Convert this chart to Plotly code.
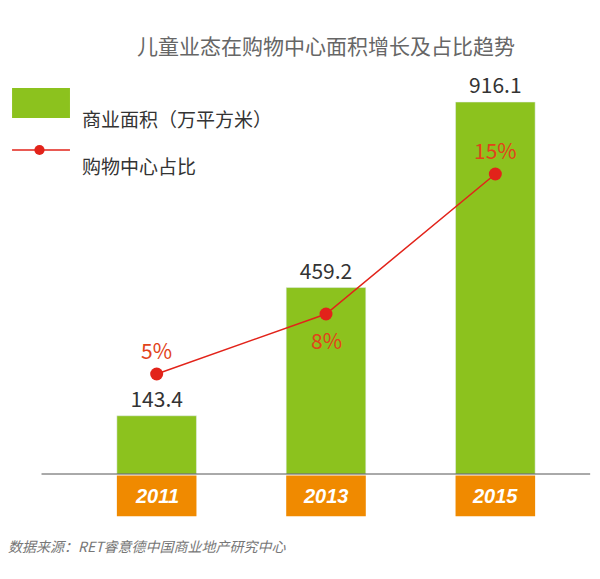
import plotly.graph_objects as go

years = ["2011", "2013", "2015"]
area = [143.4, 459.2, 916.1]
share = [5, 8, 15]
share_labels = ["5%", "8%", "15%"]

GREEN = "#8cc21e"
RED = "#e2231a"
ORANGE = "#f08a00"
FONT = "Noto Sans CJK SC"
H = 463  # plot area height in px

fig = go.Figure()
fig.add_trace(go.Bar(x=years, y=area, marker_color=GREEN, width=0.47,
                     text=[f"{v:.1f}" for v in area], textposition="outside",
                     textfont=dict(size=21, color="#333"), cliponaxis=False))
fig.add_trace(go.Scatter(x=years, y=share, yaxis="y2", mode="lines+markers",
                         line=dict(color=RED, width=1.5),
                         marker=dict(size=13, color=RED)))

# percentage labels
offsets = [24, -26, 24]
for i, (s, lab, off) in enumerate(zip(share, share_labels, offsets)):
    fig.add_annotation(x=i, xref="x", y=s, yref="y2", text=lab, showarrow=False,
                       yshift=off, font=dict(size=21, color="#e2431a"))

# orange year boxes below the baseline
for i, yr in enumerate(years):
    fig.add_shape(type="rect", xref="x", yref="y", x0=i - 0.235, x1=i + 0.235,
                  y0=-4, y1=-104, fillcolor=ORANGE, line_width=0)
    fig.add_annotation(x=i, xref="x", y=-54, yref="y", text=f"<b><i>{yr}</i></b>",
                       showarrow=False, font=dict(size=20, color="white",
                                                  family="Liberation Sans"))

# baseline
fig.add_shape(type="line", xref="paper", yref="y", x0=-0.06, x1=1.02, y0=0, y1=0,
              line=dict(color="#555", width=1))

# manual legend
fig.add_shape(type="rect", xref="paper", yref="paper", x0=-0.118, x1=-0.004,
              y0=1.0 - (118 - 60) / H, y1=1.0 - (88 - 60) / H,
              fillcolor=GREEN, line_width=0)
fig.add_annotation(xref="paper", yref="paper", x=0.016, y=1.0 - (103 - 60) / H,
                   text="商业面积（万平方米）", showarrow=False, xanchor="left",
                   font=dict(size=19, color="#333"))
fig.add_shape(type="line", xref="paper", yref="paper", x0=-0.118, x1=-0.004,
              y0=1.0 - (150 - 60) / H, y1=1.0 - (150 - 60) / H,
              line=dict(color=RED, width=1.5))
fig.add_shape(type="circle", xref="paper", yref="paper", x0=-0.074, x1=-0.054,
              y0=1.0 - (155 - 60) / H, y1=1.0 - (145 - 60) / H,
              fillcolor=RED, line_width=0)
fig.add_annotation(xref="paper", yref="paper", x=0.016, y=1.0 - (150 - 60) / H,
                   text="购物中心占比", showarrow=False, xanchor="left",
                   font=dict(size=19, color="#333"))

fig.add_annotation(xref="paper", yref="paper", x=0.5, y=1.0 + (60 - 28) / H,
                   text="儿童业态在购物中心面积增长及占比趋势", showarrow=False,
                   font=dict(size=21, color="#666"))
fig.add_annotation(xref="paper", yref="paper", x=-0.13, y=-(558 - 523) / H,
                   text="<i>数据来源：RET睿意德中国商业地产研究中心</i>", showarrow=False,
                   xanchor="left", font=dict(size=14, color="#777"))

fig.update_layout(
    width=592, height=571, showlegend=False,
    margin=dict(l=64, r=20, t=52, b=56),
    plot_bgcolor="white", paper_bgcolor="white",
    font=dict(family=FONT),
    xaxis=dict(visible=False, type="category", range=[-0.5, 2.5]),
    yaxis=dict(visible=False, range=[-120.7, 1019.7]),
    yaxis2=dict(visible=False, overlaying="y", range=[-2.45, 20.7]),
)
fig.write_html("out.html")
